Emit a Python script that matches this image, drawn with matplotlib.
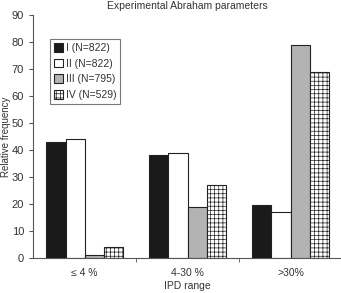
import numpy as np
import matplotlib
matplotlib.use("Agg")
import matplotlib.pyplot as plt

categories = ["\u2264 4 %", "4-30 %", ">30%"]
series_labels = ["I (N=822)", "II (N=822)", "III (N=795)", "IV (N=529)"]
series_values = [
    [43, 38, 19.5],
    [44, 39, 17],
    [1, 19, 79],
    [4, 27, 69],
]
yticks = [0, 10, 20, 30, 40, 50, 60, 70, 80, 90]

face = ["#1a1a1a", "white", "#b3b3b3", "white"]
hatches = [None, None, None, "++++"]

plt.rcParams["font.family"] = ["Liberation Sans", "DejaVu Sans"]
plt.rcParams["hatch.linewidth"] = 0.5
txt = "#333333"

fig = plt.figure(figsize=(3.41, 2.93), dpi=100)
ax = fig.add_axes([0.097, 0.119, 0.906, 0.83])

x = np.arange(len(categories))
w = 0.185
for i, vals in enumerate(series_values):
    off = (i - 1.5) * w
    ax.bar(x + off, vals, width=w, color=face[i], edgecolor="#222222",
           linewidth=0.8, hatch=hatches[i], label=series_labels[i])

ax.set_xlim(-0.5, 2.5)
ax.set_ylim(0, 90)
ax.set_yticks(yticks)
ax.set_xticks(x)
ax.set_xticklabels(categories)
ax.set_xticks([0.5, 1.5], minor=True)
ax.tick_params(axis="x", which="major", length=0, pad=7, labelsize=7.5, colors=txt)
ax.tick_params(axis="x", which="minor", length=3, color="#555555")
ax.tick_params(axis="y", length=3, labelsize=8, colors=txt, color="#555555")
for s in ["top", "right"]:
    ax.spines[s].set_visible(False)
for s in ["left", "bottom"]:
    ax.spines[s].set_color("#555555")
    ax.spines[s].set_linewidth(0.8)

ax.set_ylabel("Relative frequency", fontsize=7, color=txt)
ax.yaxis.set_label_coords(-0.072, 0.5)
ax.set_xlabel("IPD range", fontsize=7.5, color=txt)
ax.xaxis.set_label_coords(0.5, -0.094)
ax.set_title("Experimental Abraham parameters", fontsize=7.5, color=txt, pad=4)

leg = ax.legend(loc="upper left", bbox_to_anchor=(0.055, 0.9), fontsize=7.5,
                frameon=True, fancybox=False, edgecolor="#555555",
                handlelength=0.9, handleheight=0.9, handletextpad=0.3,
                borderpad=0.35, labelspacing=0.55, borderaxespad=0)
leg.get_frame().set_linewidth(0.8)
for t in leg.get_texts():
    t.set_color(txt)

fig.savefig("out.png", dpi=100)
